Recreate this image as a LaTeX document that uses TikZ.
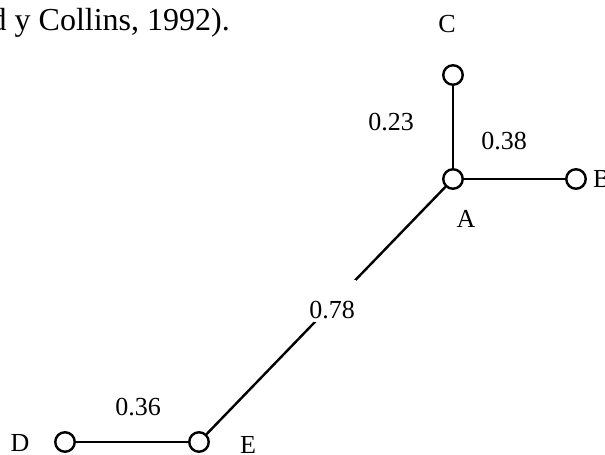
\documentclass[tikz,border=0pt]{standalone}
\usepackage{fontspec}
\setmainfont{Liberation Serif}
\begin{document}
\begin{tikzpicture}[x=1pt,y=-1pt,
  vtx/.style={circle,draw,line width=2.4pt,fill=white,minimum size=19.5pt,inner sep=0pt},
  lbl/.style={inner sep=1pt,font=\fontsize{26}{30}\selectfont},
  edge/.style={line width=2.4pt}]
\useasboundingbox (0,0) rectangle (605,455);
\clip (0,0) rectangle (605,455);
\node[anchor=base east,inner sep=0pt,font=\fontsize{32}{38}\selectfont] (cite) at (230,30) {d y Collins, 1992).};
\node[vtx] (A) at (453,179) {};
\node[vtx] (C) at (453,75) {};
\node[vtx] (B) at (576,179) {};
\node[vtx] (E) at (199,442) {};
\node[vtx] (D) at (65,442) {};
\draw[edge] (A) -- (C);
\draw[edge] (A) -- (B);
\draw[edge] (D) -- (E);
\draw[edge] (E) -- (A);
\node[lbl,fill=white,text height=36pt,text depth=2pt,inner ysep=2pt,inner xsep=1pt,anchor=base] (l78) at (332,318) {0.78};
\node[lbl] (lC) at (447,24) {C};
\node[lbl] (lA) at (466,219) {A};
\node[lbl,anchor=west] (lB) at (592,179) {B};
\node[lbl] (lD) at (20,443) {D};
\node[lbl] (lE) at (248,445) {E};
\node[lbl] (l23) at (391,122) {0.23};
\node[lbl] (l38) at (504,141) {0.38};
\node[lbl] (l36) at (138,407) {0.36};
\end{tikzpicture}
\end{document}
